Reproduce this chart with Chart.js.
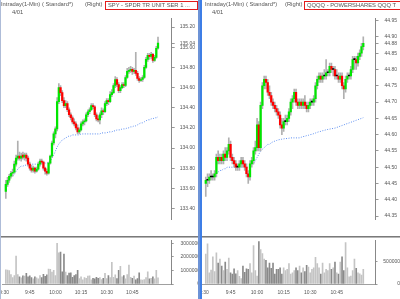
<!DOCTYPE html>
<html>
<head>
<meta charset="utf-8">
<script src="https://cdn.jsdelivr.net/npm/chart.js@4.4.0/dist/chart.umd.min.js"></script>
<style>
body { margin: 0; width: 400px; height: 299px; overflow: hidden; background: #fff; font-family: "Liberation Sans", Arial, sans-serif; }
.panel { position: absolute; top: 0; width: 200px; height: 299px; overflow: hidden; }
canvas { position: absolute; left: 0; }
.t { position: absolute; font-size: 5.8px; line-height: 7px; color: #555; white-space: nowrap; }
.box { position: absolute; top: 1px; height: 7px; border: 1px solid #e31b1b; font-size: 5.8px; line-height: 7px; color: #555; white-space: nowrap; padding-left: 2px; overflow: hidden; }
.sep { position: absolute; left: 0; width: 200px; height: 1px; }
</style>
</head>
<body>
<div class="panel" id="pl" style="left:0">
  <canvas id="spy-price" width="200" height="236" style="top:0"></canvas>
  <canvas id="spy-vol" width="200" height="61" style="top:238px"></canvas>
  <div class="t" style="left:1px;top:1px">Intraday(1-Min) ( Standard*)</div>
  <div class="t" style="left:85px;top:1px">(Right)</div>
  <div class="box" style="left:105px;width:89px">SPY - SPDR TR UNIT SER 1 ...</div>
  <div class="t" style="left:12px;top:9px">4/01</div>
  <div class="sep" style="top:236px;background:#7a7a7a"></div>
  <div class="sep" style="top:237px;background:#b5b5b5"></div>
  <div style="position:absolute;left:0;top:0;width:1px;height:299px;background:#aebcd8"></div>
  <div style="position:absolute;left:198px;top:0;width:2px;height:299px;background:#6d93d6"></div>
</div>
<div class="panel" id="pr" style="left:200px">
  <canvas id="qqq-price" width="200" height="236" style="top:0"></canvas>
  <canvas id="qqq-vol" width="200" height="61" style="top:238px"></canvas>
  <div class="t" style="left:5px;top:1px">Intraday(1-Min) ( Standard*)</div>
  <div class="t" style="left:85px;top:1px">(Right)</div>
  <div class="box" style="left:104px;width:110px">QQQQ - POWERSHARES QQQ T</div>
  <div class="t" style="left:12px;top:9px">4/01</div>
  <div class="sep" style="top:236px;background:#7a7a7a"></div>
  <div class="sep" style="top:237px;background:#b5b5b5"></div>
  <div style="position:absolute;left:0;top:0;width:2px;height:299px;background:#3d7ee6"></div>
</div>
<script>
// time axis: minutes after 9:30, one bar per minute (9:31 .. 11:00)
var tickMinutes = [0, 15, 30, 45, 60, 75];
var tickLabels = ["9:30", "9:45", "10:00", "10:15", "10:30", "10:45"];

// SPY
var spyOpen = [133.57,133.64,133.68,133.72,133.75,133.76,133.84,133.90,133.92,133.90,
  133.93,133.91,133.93,133.90,133.84,133.80,133.78,133.80,133.77,133.79,
  133.84,133.87,133.86,133.80,133.77,133.75,133.85,133.92,134.05,134.14,
  134.19,134.46,134.60,134.55,134.47,134.42,134.44,134.38,134.33,134.30,
  134.26,134.24,134.20,134.16,134.18,134.24,134.26,134.27,134.33,134.36,
  134.38,134.42,134.41,134.33,134.29,134.28,134.33,134.37,134.36,134.44,
  134.47,134.46,134.53,134.55,134.62,134.68,134.63,134.57,134.60,134.63,
  134.62,134.70,134.76,134.77,134.78,134.76,134.77,134.74,134.69,134.67,
  134.68,134.70,134.80,134.88,134.92,134.91,134.93,134.87,134.90,134.99];
var spyHigh = [133.68,133.71,133.74,133.77,133.79,133.87,133.93,134.07,133.96,133.95,
  133.96,133.95,133.95,133.92,133.86,133.83,133.82,133.81,133.81,133.86,
  133.89,133.89,133.87,133.81,133.79,133.86,133.93,134.07,134.16,134.21,
  134.50,134.64,134.62,134.57,134.50,134.47,134.46,134.40,134.35,134.32,
  134.29,134.26,134.23,134.20,134.26,134.28,134.29,134.35,134.38,134.40,
  134.44,134.44,134.42,134.35,134.32,134.35,134.40,134.39,134.46,134.49,
  134.49,134.56,134.58,134.64,134.71,134.70,134.65,134.62,134.65,134.65,
  134.72,134.79,134.80,134.81,134.80,134.79,134.95,134.76,134.71,134.70,
  134.72,134.82,134.90,134.94,134.94,134.95,134.94,134.92,135.01,135.10];
var spyLow = [133.50,133.62,133.66,133.70,133.72,133.75,133.82,133.88,133.88,133.87,
  133.89,133.88,133.87,133.82,133.78,133.76,133.76,133.75,133.76,133.78,
  133.82,133.84,133.78,133.74,133.73,133.74,133.84,133.91,134.03,134.10,
  134.17,134.44,134.52,134.45,134.40,134.40,134.36,134.31,134.28,134.24,
  134.22,134.18,134.14,134.14,134.17,134.22,134.23,134.26,134.31,134.34,
  134.37,134.39,134.31,134.27,134.26,134.24,134.30,134.33,134.35,134.42,
  134.43,134.45,134.51,134.54,134.60,134.61,134.55,134.55,134.59,134.60,
  134.61,134.69,134.74,134.75,134.73,134.74,134.72,134.67,134.65,134.66,
  134.66,134.69,134.79,134.86,134.88,134.89,134.85,134.86,134.89,134.98];
var spyClose = [133.64,133.68,133.72,133.75,133.76,133.84,133.90,133.92,133.90,133.92,
  133.91,133.93,133.90,133.84,133.80,133.78,133.80,133.77,133.79,133.84,
  133.87,133.86,133.80,133.77,133.75,133.85,133.92,134.05,134.14,134.19,
  134.46,134.60,134.55,134.47,134.42,134.44,134.38,134.33,134.30,134.26,
  134.24,134.20,134.16,134.18,134.24,134.26,134.27,134.33,134.36,134.38,
  134.42,134.41,134.33,134.29,134.28,134.33,134.37,134.36,134.44,134.47,
  134.46,134.53,134.55,134.62,134.68,134.63,134.57,134.60,134.63,134.62,
  134.70,134.76,134.77,134.78,134.76,134.77,134.74,134.69,134.67,134.68,
  134.70,134.80,134.88,134.92,134.91,134.93,134.87,134.90,134.99,135.04];
var spyAvg = [null,null,null,null,133.72,133.74,133.77,133.79,133.81,133.82,
  133.82,133.83,133.83,133.83,133.84,133.84,133.84,133.84,133.84,133.84,
  133.85,133.85,133.85,133.85,133.85,133.86,133.87,133.90,133.93,133.97,
  134.01,134.04,134.06,134.08,134.09,134.10,134.11,134.12,134.12,134.13,
  134.13,134.13,134.13,134.13,134.14,134.14,134.14,134.14,134.14,134.14,
  134.14,134.14,134.14,134.14,134.14,134.14,134.15,134.15,134.15,134.15,
  134.16,134.16,134.16,134.17,134.17,134.18,134.18,134.18,134.19,134.19,
  134.19,134.20,134.20,134.21,134.21,134.22,134.22,134.23,134.24,134.25,
  134.25,134.26,134.27,134.28,134.28,134.29,134.29,134.30,134.30,134.31];
var spyVolume = [1050000,1020000,980000,700000,480000,620000,2050000,700000,520000,450000,
  600000,580000,780000,520000,600000,480000,380000,520000,460000,380000,
  620000,480000,720000,560000,680000,1100000,1080000,880000,1000000,620000,
  3000000,2300000,2350000,900000,2200000,880000,620000,800000,820000,500000,
  620000,700000,1000000,400000,520000,300000,480000,420000,580000,600000,
  300000,420000,380000,500000,420000,480000,320000,420000,780000,400000,
  620000,480000,1600000,500000,680000,400000,1000000,1300000,520000,620000,
  380000,700000,1400000,500000,420000,580000,300000,400000,820000,300000,
  280000,320000,480000,900000,380000,420000,520000,380000,1000000,450000];
var spyPriceTicks = [133.40, 133.60, 133.80, 134.00, 134.20, 134.40, 134.60, 134.80, 135.00, 135.04, 135.20];
var spyVolTicks = [0, 1000000, 2000000, 3000000];

// QQQQ
var qqqOpen = [44.45,44.46,44.46,44.47,44.47,44.47,44.48,44.53,44.52,44.53,
  44.52,44.54,44.53,44.55,44.57,44.53,44.52,44.51,44.50,44.50,
  44.51,44.52,44.51,44.50,44.48,44.47,44.51,44.52,44.55,44.56,
  44.63,44.56,44.69,44.75,44.77,44.76,44.73,44.72,44.70,44.69,
  44.68,44.67,44.66,44.63,44.62,44.64,44.64,44.65,44.67,44.70,
  44.71,44.73,44.70,44.69,44.70,44.69,44.70,44.69,44.68,44.69,
  44.70,44.70,44.71,44.75,44.77,44.78,44.77,44.78,44.78,44.79,
  44.79,44.81,44.80,44.80,44.78,44.78,44.77,44.78,44.75,44.74,
  44.77,44.78,44.78,44.80,44.83,44.83,44.82,44.84,44.85,44.87];
var qqqHigh = [44.47,44.48,44.48,44.49,44.48,44.49,44.54,44.55,44.54,44.54,
  44.55,44.56,44.56,44.59,44.58,44.54,44.53,44.52,44.51,44.52,
  44.53,44.53,44.52,44.51,44.49,44.52,44.53,44.56,44.58,44.65,
  44.64,44.70,44.76,44.78,44.78,44.77,44.75,44.73,44.71,44.70,
  44.69,44.68,44.67,44.65,44.65,44.66,44.66,44.68,44.71,44.72,
  44.74,44.74,44.71,44.71,44.71,44.71,44.72,44.70,44.70,44.71,
  44.71,44.72,44.76,44.78,44.79,44.79,44.79,44.80,44.83,44.80,
  44.82,44.82,44.81,44.81,44.80,44.79,44.79,44.79,44.76,44.78,
  44.79,44.79,44.81,44.84,44.84,44.84,44.85,44.86,44.88,44.90];
var qqqLow = [44.41,44.44,44.45,44.46,44.46,44.46,44.47,44.51,44.51,44.51,
  44.51,44.52,44.52,44.54,44.52,44.51,44.50,44.49,44.49,44.49,
  44.50,44.50,44.49,44.47,44.45,44.46,44.50,44.51,44.54,44.55,
  44.55,44.55,44.68,44.74,44.74,44.72,44.71,44.69,44.68,44.67,
  44.66,44.65,44.62,44.60,44.61,44.63,44.63,44.64,44.66,44.68,
  44.70,44.69,44.68,44.68,44.68,44.68,44.68,44.67,44.67,44.68,
  44.69,44.69,44.70,44.74,44.76,44.76,44.76,44.77,44.77,44.78,
  44.78,44.79,44.78,44.77,44.77,44.76,44.76,44.74,44.71,44.73,
  44.76,44.77,44.77,44.79,44.80,44.80,44.81,44.83,44.84,44.86];
var qqqClose = [44.46,44.46,44.47,44.47,44.47,44.48,44.53,44.52,44.53,44.52,
  44.54,44.53,44.55,44.57,44.53,44.52,44.51,44.50,44.50,44.51,
  44.52,44.51,44.50,44.48,44.47,44.51,44.52,44.55,44.56,44.63,
  44.56,44.69,44.75,44.77,44.76,44.73,44.72,44.70,44.69,44.68,
  44.67,44.66,44.63,44.62,44.64,44.64,44.65,44.67,44.70,44.71,
  44.73,44.70,44.69,44.70,44.69,44.70,44.69,44.68,44.69,44.70,
  44.70,44.71,44.75,44.77,44.78,44.77,44.78,44.78,44.79,44.79,
  44.81,44.80,44.80,44.78,44.78,44.77,44.78,44.75,44.74,44.77,
  44.78,44.78,44.80,44.83,44.83,44.82,44.84,44.85,44.87,44.88];
var qqqAvg = [null,null,null,null,null,44.475,44.48,44.485,44.49,44.49,
  44.495,44.495,44.50,44.50,44.50,44.50,44.50,44.50,44.50,44.50,
  44.50,44.50,44.50,44.50,44.50,44.50,44.505,44.51,44.52,44.53,
  44.54,44.55,44.555,44.56,44.565,44.57,44.57,44.575,44.578,44.58,
  44.582,44.584,44.585,44.586,44.587,44.588,44.588,44.589,44.59,44.59,
  44.59,44.59,44.59,44.59,44.592,44.594,44.595,44.597,44.598,44.60,
  44.601,44.603,44.605,44.607,44.609,44.61,44.612,44.613,44.615,44.616,
  44.617,44.618,44.619,44.62,44.622,44.624,44.626,44.628,44.63,44.632,
  44.634,44.636,44.638,44.64,44.642,44.644,44.646,44.648,44.65,44.652];
var qqqVolume = [670000,900000,250000,310000,610000,280000,700000,470000,560000,400000,
  300000,490000,330000,580000,250000,220000,340000,230000,300000,170000,
  120000,400000,260000,340000,330000,460000,250000,860000,300000,180000,
  950000,770000,680000,560000,530000,360000,470000,350000,470000,220000,
  330000,330000,360000,220000,360000,300000,330000,460000,220000,250000,
  300000,360000,300000,400000,250000,360000,280000,420000,380000,250000,
  330000,360000,600000,460000,360000,220000,470000,250000,330000,300000,
  460000,330000,360000,490000,250000,220000,490000,610000,300000,930000,
  360000,160000,180000,300000,560000,350000,250000,230000,200000,330000];
var qqqPriceTicks = [44.35, 44.40, 44.45, 44.50, 44.55, 44.60, 44.65, 44.70, 44.75, 44.80, 44.85, 44.88, 44.90, 44.95];
var qqqVolTicks = [0, 500000];

var upColor = "#00e600", downColor = "#ff0000", flatColor = "#000000";
var tickFont = { family: "Liberation Sans", size: 5 };

function barColor(o, c, k) {
  return c[k] > o[k] ? upColor : (c[k] < o[k] ? downColor : flatColor);
}

function xAxis(xmin, xmax, show) {
  return {
    type: "linear", min: xmin, max: xmax, offset: false, display: show,
    grid: { display: true, drawOnChartArea: false, drawTicks: false },
    border: { display: true, color: "#a0a0a0" },
    afterBuildTicks: function (s) { s.ticks = tickMinutes.map(function (v) { return { value: v }; }); },
    afterFit: function (s) { s.height = 15; s.paddingLeft = 0; s.paddingRight = 0; },
    ticks: {
      autoSkip: false, maxRotation: 0, padding: 6, color: "#555", font: tickFont,
      callback: function (v) { return tickLabels[tickMinutes.indexOf(v)]; }
    }
  };
}

function priceChart(id, o, h, l, c, avg, ticks, ymin, ymax, xmin, xmax, axisW, labPad) {
  var wicks = [], bodies = [], avgPts = [];
  for (var k = 0; k < c.length; k++) {
    wicks.push({ x: k + 1, y: [l[k], h[k]] });
    bodies.push({ x: k + 1, y: [o[k], c[k]] });
    avgPts.push({ x: k + 1, y: avg[k] });
  }
  new Chart(id, {
    type: "bar",
    data: {
      datasets: [{
        type: "line", data: avgPts, borderColor: "#5b8df0", borderWidth: 1,
        borderDash: [1, 1.5], pointRadius: 0, fill: false, spanGaps: false, order: 3
      }, {
        data: wicks, backgroundColor: "#b0b0b0", barThickness: 1, grouped: false, order: 2
      }, {
        data: bodies, barThickness: 1.6, minBarLength: 1, grouped: false, order: 1,
        backgroundColor: function (ctx) { return barColor(o, c, ctx.dataIndex); }
      }]
    },
    options: {
      responsive: false, animation: false, events: [],
      layout: { autoPadding: false, padding: { left: 2, top: 18, right: 0, bottom: 2 } },
      plugins: { legend: { display: false }, tooltip: { enabled: false } },
      scales: {
        x: xAxis(xmin, xmax, false),
        y: {
          type: "linear", position: "right", min: ymin, max: ymax, beginAtZero: false,
          grid: { display: true, drawOnChartArea: false, drawTicks: true, tickLength: 3, color: "#999" },
          border: { display: true, color: "#888", dash: [1, 1] },
          afterBuildTicks: function (s) { s.ticks = ticks.map(function (v) { return { value: v }; }); },
          afterFit: function (s) { s.width = axisW; s.paddingTop = 0; s.paddingBottom = 0; },
          ticks: {
            padding: labPad, color: "#555", font: tickFont,
            callback: function (v) { return Number(v).toFixed(2); }
          }
        }
      }
    }
  });
}

function volumeChart(id, o, c, vol, ticks, vmax, xmin, xmax, axisW) {
  var pts = [];
  for (var k = 0; k < vol.length; k++) pts.push({ x: k + 1, y: vol[k] });
  new Chart(id, {
    type: "bar",
    data: {
      datasets: [{
        data: pts, barThickness: 1, grouped: false,
        backgroundColor: function (ctx) {
          var k = ctx.dataIndex;
          return c[k] >= o[k] ? "#c4c4c4" : "#8a8a8a";
        }
      }]
    },
    options: {
      responsive: false, animation: false, events: [],
      layout: { autoPadding: false, padding: { left: 2, top: 2, right: 0, bottom: 0 } },
      plugins: { legend: { display: false }, tooltip: { enabled: false } },
      scales: {
        x: xAxis(xmin, xmax, true),
        y: {
          type: "linear", position: "right", min: 0, max: vmax,
          grid: { display: true, drawOnChartArea: false, drawTicks: true, tickLength: 2, color: "#999" },
          border: { display: true, color: "#888", dash: [1, 1] },
          afterBuildTicks: function (s) { s.ticks = ticks.map(function (v) { return { value: v }; }); },
          afterFit: function (s) { s.width = axisW; s.paddingTop = 0; s.paddingBottom = 0; },
          ticks: {
            padding: 2, crossAlign: "far", color: "#555", font: tickFont,
            callback: function (v) { return String(v); }
          }
        }
      }
    }
  });
}

priceChart("spy-price", spyOpen, spyHigh, spyLow, spyClose, spyAvg, spyPriceTicks,
  133.296, 135.29, -1.23, 98.01, 28.3, 5);
volumeChart("spy-vol", spyOpen, spyClose, spyVolume, spyVolTicks, 3240000, -1.23, 98.01, 28.3);

priceChart("qqq-price", qqqOpen, qqqHigh, qqqLow, qqqClose, qqqAvg, qqqPriceTicks,
  44.341, 44.958, -1.13, 96.9, 24.5, 6);
volumeChart("qqq-vol", qqqOpen, qqqClose, qqqVolume, qqqVolTicks, 987000, -1.13, 96.9, 24.5);
</script>
</body>
</html>
